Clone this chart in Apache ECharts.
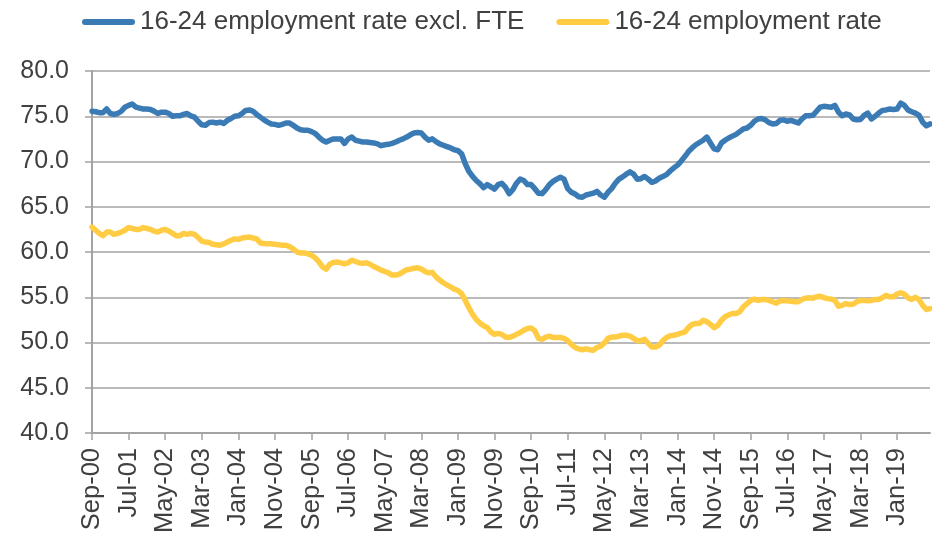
<!DOCTYPE html>
<html>
<head>
<meta charset="utf-8">
<title>16-24 employment rate</title>
<script src="https://cdn.jsdelivr.net/npm/echarts@6/dist/echarts.min.js"></script>
<style>
  html, body { margin: 0; padding: 0; background: #fff; }
  #chart { width: 932px; height: 537px; }
</style>
</head>
<body>
<div id="chart"></div>
<script>
// monthly, first point Sep-00
var startYear = 2000, startMonth = 8;
var monthNames = ['Jan','Feb','Mar','Apr','May','Jun','Jul','Aug','Sep','Oct','Nov','Dec'];

var yTicks = [40, 45, 50, 55, 60, 65, 70, 75, 80];

var exclFte = [
  75.55, 75.5, 75.4, 75.4, 75.8, 75.3, 75.2, 75.3, 75.55, 76.0,
  76.2, 76.35, 76.0, 75.9, 75.8, 75.8, 75.75, 75.55, 75.3, 75.45,
  75.45, 75.3, 75.0, 75.05, 75.05, 75.2, 75.3, 75.05, 74.9, 74.45,
  74.05, 74.0, 74.3, 74.35, 74.25, 74.35, 74.2, 74.55, 74.75, 75.0,
  75.05, 75.3, 75.65, 75.7, 75.55, 75.2, 74.9, 74.6, 74.35, 74.15,
  74.1, 74.0, 74.1, 74.25, 74.25, 74.0, 73.7, 73.5, 73.45, 73.45,
  73.3, 73.1, 72.7, 72.35, 72.15, 72.35, 72.5, 72.5, 72.5, 72.0,
  72.5, 72.7, 72.35, 72.25, 72.15, 72.15, 72.1, 72.05, 71.95, 71.75,
  71.85, 71.9, 72.0, 72.15, 72.35, 72.5, 72.7, 72.95, 73.15, 73.2,
  73.15, 72.7, 72.35, 72.5, 72.2, 71.95, 71.8, 71.65, 71.5, 71.3,
  71.2, 70.85, 69.75, 68.9, 68.35, 67.9, 67.55, 67.1, 67.45, 67.2,
  66.95, 67.45, 67.6, 67.15, 66.45, 66.9, 67.6, 68.05, 67.9, 67.45,
  67.45, 67.0, 66.5, 66.45, 66.9, 67.45, 67.8, 68.05, 68.25, 68.05,
  67.0, 66.6, 66.4, 66.1, 66.05, 66.3, 66.4, 66.5, 66.7, 66.3,
  66.05, 66.6, 67.0, 67.6, 68.05, 68.3, 68.6, 68.85, 68.6, 68.05,
  68.1, 68.35, 68.05, 67.7, 67.85, 68.15, 68.35, 68.55, 68.95, 69.3,
  69.6, 70.05, 70.55, 71.1, 71.5, 71.85, 72.1, 72.35, 72.7, 72.05,
  71.4, 71.3, 72.05, 72.35, 72.6, 72.8, 73.0, 73.3, 73.6, 73.7,
  74.0, 74.45, 74.7, 74.75, 74.6, 74.3, 74.15, 74.2, 74.55, 74.6,
  74.45, 74.55, 74.4, 74.25, 74.7, 75.05, 75.05, 75.1, 75.55, 76.0,
  76.1, 76.05, 76.0, 76.2, 75.45, 75.05, 75.25, 75.15, 74.7, 74.6,
  74.65, 75.1, 75.35, 74.7, 75.0, 75.35, 75.65, 75.7, 75.8, 75.75,
  75.8, 76.45, 76.2, 75.7, 75.5, 75.35, 75.1, 74.35, 73.95, 74.15
];

var allRate = [
  62.75, 62.4, 62.05, 61.8, 62.2, 62.2, 61.95, 62.05, 62.2, 62.4,
  62.7, 62.6, 62.5, 62.5, 62.7, 62.6, 62.5, 62.3, 62.2, 62.4,
  62.5, 62.3, 62.05, 61.8, 61.8, 62.05, 61.95, 62.05, 61.95, 61.6,
  61.2, 61.1, 61.05, 60.85, 60.8, 60.75, 60.9, 61.1, 61.3, 61.45,
  61.4, 61.55, 61.6, 61.65, 61.55, 61.45, 61.0, 60.95, 60.9, 60.9,
  60.85, 60.8, 60.75, 60.75, 60.6, 60.35, 60.0, 59.9, 59.9, 59.8,
  59.65, 59.35, 58.9, 58.35, 58.1, 58.65, 58.85, 58.9, 58.8, 58.7,
  58.8, 59.1, 58.95, 58.8, 58.75, 58.8, 58.65, 58.4, 58.2, 58.0,
  57.85, 57.7, 57.45, 57.45, 57.55, 57.8, 58.05, 58.1, 58.2, 58.25,
  58.1, 57.85, 57.7, 57.75, 57.25, 56.9, 56.6, 56.35, 56.15, 55.9,
  55.75, 55.4, 54.65, 53.85, 53.1, 52.55, 52.15, 51.85, 51.65, 51.15,
  50.9, 51.0, 50.9, 50.6, 50.55, 50.7, 50.9, 51.1, 51.35, 51.55,
  51.6, 51.3, 50.45, 50.35, 50.6, 50.7, 50.55, 50.55, 50.55, 50.45,
  50.2, 49.8, 49.45, 49.3, 49.2, 49.3, 49.2, 49.15, 49.45, 49.6,
  49.95, 50.45, 50.6, 50.6, 50.7, 50.8, 50.8, 50.7, 50.45, 50.2,
  50.2, 50.35, 49.9, 49.5, 49.5, 49.7, 50.2, 50.55, 50.75, 50.8,
  50.9, 51.05, 51.15, 51.65, 52.0, 52.1, 52.1, 52.45, 52.3, 52.0,
  51.65, 51.9, 52.45, 52.85, 53.05, 53.2, 53.2, 53.4, 53.95, 54.3,
  54.65, 54.8, 54.65, 54.75, 54.75, 54.65, 54.5, 54.35, 54.6, 54.65,
  54.6, 54.55, 54.5, 54.5, 54.75, 54.9, 54.95, 54.9, 55.05, 55.1,
  54.95, 54.85, 54.8, 54.65, 54.0, 54.1, 54.3, 54.2, 54.25, 54.5,
  54.65, 54.65, 54.6, 54.65, 54.75, 54.75, 54.95, 55.2, 55.05, 55.05,
  55.35, 55.5, 55.35, 54.95, 54.75, 55.0, 54.75, 54.1, 53.65, 53.75
];

// month labels Sep-00, Oct-00 ...
var months = [];
for (var i = 0; i < exclFte.length; i++) {
  var m = startMonth + i;
  var yr = (startYear + Math.floor(m / 12)) % 100;
  months.push(monthNames[m % 12] + '-' + (yr < 10 ? '0' : '') + yr);
}

var grey = '#a3a3a3';
var textCol = '#404040';
var capsule = 'path://M3,0L50,0A3,3,0,0,1,50,6L3,6A3,3,0,0,1,3,0Z';

var myChart = echarts.init(document.getElementById('chart'), null, { renderer: 'canvas' });

var option = {
  animation: false,
  backgroundColor: '#ffffff',
  legend: {
    left: 77,
    top: 4,
    itemWidth: 53,
    itemHeight: 6,
    itemGap: 32,
    textStyle: { fontFamily: 'Liberation Sans, Arial, sans-serif', fontSize: 26, color: textCol },
    data: [
      { name: '16-24 employment rate excl. FTE', icon: capsule },
      { name: '16-24 employment rate', icon: capsule }
    ]
  },
  grid: {
    left: 92,
    right: 2,
    top: 71,
    bottom: 104,
    containLabel: false,
    outerBoundsMode: 'none'
  },
  xAxis: {
    type: 'category',
    data: months,
    boundaryGap: false,
    axisLine: { lineStyle: { color: grey, width: 2 } },
    axisTick: { show: true, interval: 9, length: 7, lineStyle: { color: grey, width: 1.5 } },
    axisLabel: {
      interval: 9,
      rotate: 90,
      margin: 15,
      fontFamily: 'Liberation Sans, Arial, sans-serif',
      fontSize: 25.5,
      color: textCol
    },
    splitLine: { show: false }
  },
  yAxis: {
    type: 'value',
    min: yTicks[0],
    max: yTicks[yTicks.length - 1],
    interval: 5,
    axisLine: { show: true, lineStyle: { color: grey, width: 2 } },
    axisTick: { show: true, length: 7, lineStyle: { color: grey, width: 1.5 } },
    axisLabel: {
      margin: 23,
      fontFamily: 'Liberation Sans, Arial, sans-serif',
      fontSize: 25,
      color: textCol,
      formatter: function (v) { return v.toFixed(1); }
    },
    splitLine: { show: true, lineStyle: { color: grey, width: 1.5 } }
  },
  series: [
    {
      name: '16-24 employment rate excl. FTE',
      type: 'line',
      data: exclFte,
      showSymbol: false,
      symbol: 'none',
      color: '#3a7ab5',
      lineStyle: { width: 5.5, color: '#3a7ab5', cap: 'round', join: 'round' },
      z: 3
    },
    {
      name: '16-24 employment rate',
      type: 'line',
      data: allRate,
      showSymbol: false,
      symbol: 'none',
      color: '#ffcc44',
      lineStyle: { width: 5.5, color: '#ffcc44', cap: 'round', join: 'round' },
      z: 2
    }
  ]
};

myChart.setOption(option);
</script>
</body>
</html>
